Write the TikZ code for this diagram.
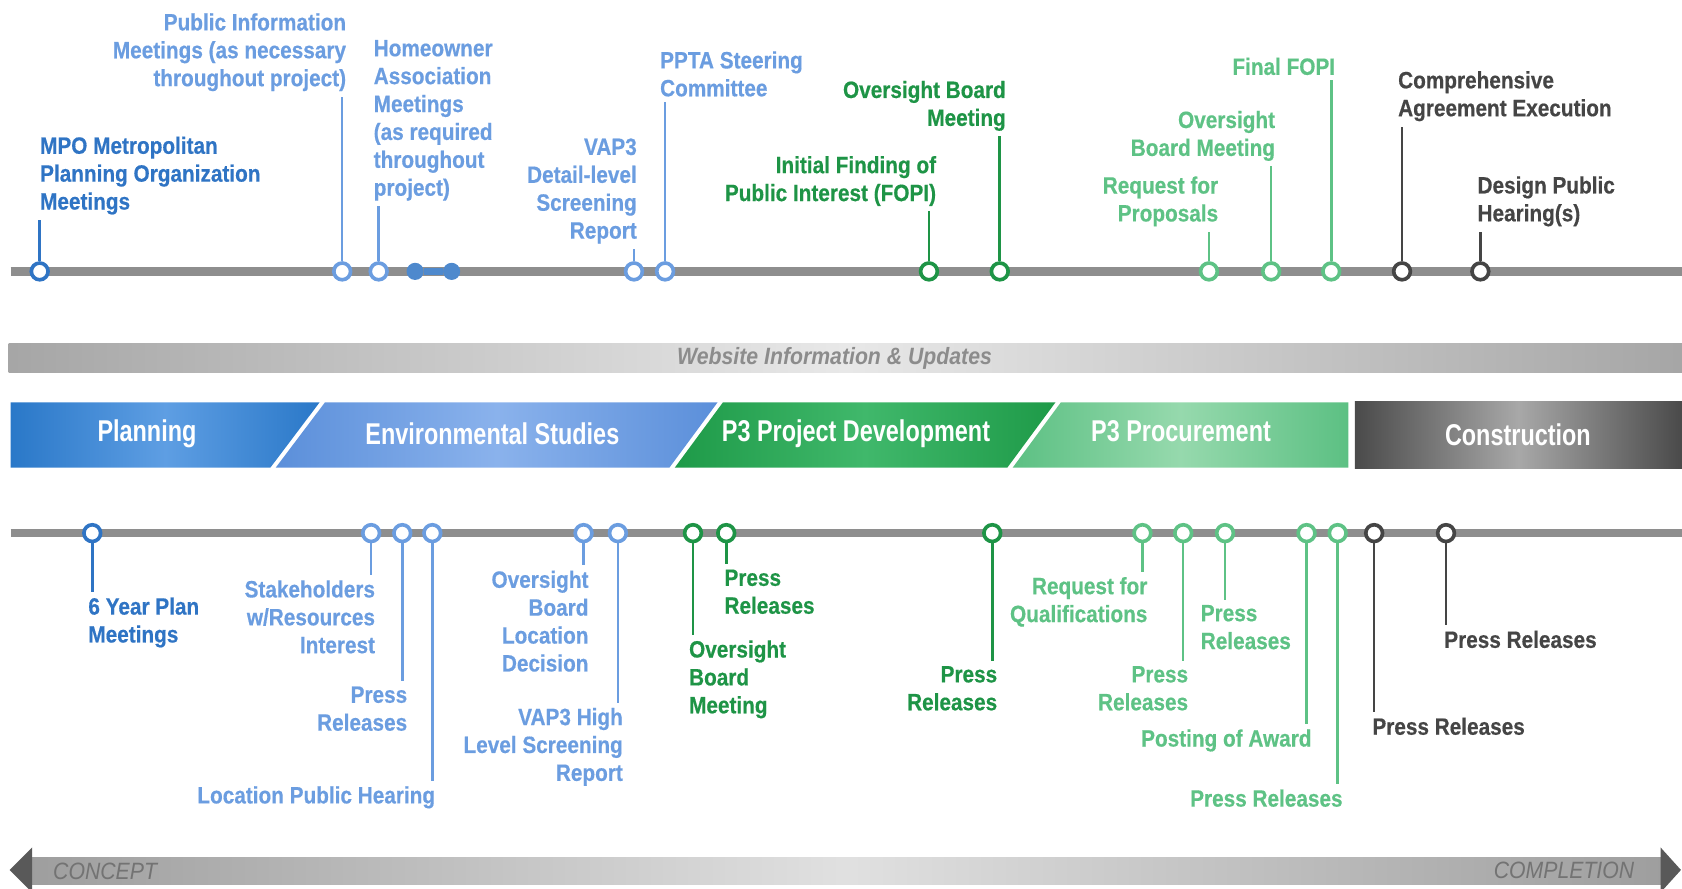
\documentclass[tikz,border=0pt]{standalone}
\usepackage{fontspec}
\usepackage{tikz}
\newfontfamily\evfamily[FakeStretch=0.88, FakeBold=0.5]{Liberation Sans}
\newfontfamily\phfamily[FakeStretch=0.78]{Liberation Sans}
\newfontfamily\webfamily[FakeStretch=0.9]{Liberation Sans}
\definecolor{pblue}{HTML}{2F74C4}
\definecolor{lblue}{HTML}{6B9DE0}
\definecolor{dgreen}{HTML}{1E9446}
\definecolor{lgreen}{HTML}{5EC285}
\definecolor{dgray}{HTML}{454545}
\definecolor{tlgray}{HTML}{8E8E8E}
\definecolor{planA}{HTML}{2A78C8}
\definecolor{planB}{HTML}{5E9EE3}
\definecolor{envA}{HTML}{5B8FDA}
\definecolor{envB}{HTML}{8AB2EC}
\definecolor{pdA}{HTML}{1E9A48}
\definecolor{pdB}{HTML}{40B86B}
\definecolor{prA}{HTML}{5CC083}
\definecolor{prB}{HTML}{96D9AD}
\definecolor{conA}{HTML}{4A4A4A}
\definecolor{conB}{HTML}{A8A8A8}
\tikzset{every picture/.append style={x=0.5pt, y=-0.5pt}}
\tikzset{
    ev/.style={circle, draw, fill=white, line width=1.7pt, minimum size=7.8pt, inner sep=0pt},
    dot/.style={circle, fill=pblue!85, minimum size=8pt, inner sep=0pt},
    stem/.style={line width=1.2pt},
    tl/.style={line width=4pt, draw=tlgray},
    lbl/.style={font=\evfamily\bfseries\fontsize{11}{13}\selectfont, inner sep=0pt, outer ysep=2.5pt},
    phase/.style={font=\phfamily\bfseries\fontsize{14}{16}\selectfont, text=white, inner sep=0pt},
    band/.style={font=\webfamily\itshape\fontsize{11}{13}\selectfont, inner sep=0pt}
}

\begin{document}
\begin{tikzpicture}
	\useasboundingbox (0,0) rectangle (1568,828);
	\shade[left color=black!35, right color=black!35, middle color=black!9] (8,320) rectangle (1568,347);
	\node (web) [band, text=black!45, font=\webfamily\bfseries\itshape\fontsize{11}{13}\selectfont] at (778,334) {Website Information \& Updates};

	\shade[left color=planA, right color=planA, middle color=planB] (10,375) -- (298,375) -- (252,436) -- (10,436) -- cycle;
	\shade[left color=envA, right color=envA, middle color=envB] (303,375) -- (669,375) -- (624,436) -- (257,436) -- cycle;
	\shade[left color=pdA, right color=pdA, middle color=pdB] (674,375) -- (984,375) -- (939,436) -- (629,436) -- cycle;
	\shade[left color=prA, right color=prA, middle color=prB] (989,375) -- (1257,375) -- (1257,436) -- (944,436) -- cycle;
	\shade[left color=conA, right color=conA, middle color=conB] (1263,374) rectangle (1568,437);
	\node (p1) [phase] at (137,404) {Planning};
	\node (p2) [phase] at (459,404) {Environmental Studies};
	\node (p3) [phase] at (798,404) {P3 Project Development};
	\node (p4) [phase] at (1101,402) {P3 Procurement};
	\node (p5) [phase] at (1415,405) {Construction};

	\coordinate (ta) at (10,253); \coordinate (tb) at (1568,253);
	\coordinate (ba) at (10,497); \coordinate (bb) at (1568,497);
	\draw [tl] (ta) -- (tb); \draw [tl] (ba) -- (bb);

	\node (t1) [ev, draw=pblue] at (37,253) {};
	\node (t2) [ev, draw=lblue] at (319,253) {};
	\node (t3) [ev, draw=lblue] at (353,253) {};
	\node (d1) [dot] at (387,253) {};
	\node (d2) [dot] at (421,253) {};
	\node (t4) [ev, draw=lblue] at (591,253) {};
	\node (t5) [ev, draw=lblue] at (620,253) {};
	\node (t6) [ev, draw=dgreen] at (866,253) {};
	\node (t7) [ev, draw=dgreen] at (932,253) {};
	\node (t8) [ev, draw=lgreen] at (1127,253) {};
	\node (t9) [ev, draw=lgreen] at (1185,253) {};
	\node (t10) [ev, draw=lgreen] at (1241,253) {};
	\node (t11) [ev, draw=dgray] at (1307,253) {};
	\node (t12) [ev, draw=dgray] at (1380,253) {};

	\node (l1) [lbl, anchor=south west, align=left, text=pblue] at (37,205) {MPO Metropolitan\\Planning Organization\\Meetings};
	\node (l2) [lbl, anchor=south east, align=right, text=lblue] at (323,90) {Public Information\\Meetings (as necessary\\throughout project)};
	\node (l3) [lbl, anchor=south west, align=left, text=lblue] at (348,192) {Homeowner\\Association\\Meetings\\(as required\\throughout\\project)};
	\node (l4) [lbl, anchor=south east, align=right, text=lblue] at (594,232) {VAP3\\Detail-level\\Screening\\Report};
	\node (l5) [lbl, anchor=south west, align=left, text=lblue] at (615,95) {PPTA Steering\\Committee};
	\node (l6) [lbl, anchor=south east, align=right, text=dgreen] at (873,197) {Initial Finding of\\Public Interest (FOPI)};
	\node (l7) [lbl, anchor=south east, align=right, text=dgreen] at (938,127) {Oversight Board\\Meeting};
	\node (l8) [lbl, anchor=south east, align=right, text=lgreen] at (1136,216) {Request for\\Proposals};
	\node (l9) [lbl, anchor=south east, align=right, text=lgreen] at (1189,155) {Oversight\\Board Meeting};
	\node (l10) [lbl, anchor=south east, align=right, text=lgreen] at (1245,75) {Final FOPI};
	\node (l11) [lbl, anchor=south west, align=left, text=dgray] at (1303,118) {Comprehensive\\Agreement Execution};
	\node (l12) [lbl, anchor=south west, align=left, text=dgray] at (1377,216) {Design Public\\Hearing(s)};

	\draw [stem, pblue] (t1) edge (t1 |- l1.south); \draw [stem, lblue] (t2) edge (t2 |- l2.south);
	\draw [stem, lblue] (t3) edge (t3 |- l3.south); \draw [stem, lblue] (t4) edge (t4 |- l4.south);
	\draw [stem, lblue] (t5) edge (t5 |- l5.south); \draw [stem, dgreen] (t6) edge (t6 |- l6.south);
	\draw [stem, dgreen] (t7) edge (t7 |- l7.south); \draw [stem, lgreen] (t8) edge (t8 |- l8.south);
	\draw [stem, lgreen] (t9) edge (t9 |- l9.south); \draw [stem, lgreen] (t10) edge (t10 |- l10.south);
	\draw [stem, dgray] (t11) edge (t11 |- l11.south); \draw [stem, dgray] (t12) edge (t12 |- l12.south);
	\draw [line width=3.5pt, pblue!85] (d1) edge (d2);

	\node (b1) [ev, draw=pblue] at (86,497) {};
	\node (b2) [ev, draw=lblue] at (346,497) {};
	\node (b3) [ev, draw=lblue] at (375,497) {};
	\node (b4) [ev, draw=lblue] at (403,497) {};
	\node (b5) [ev, draw=lblue] at (544,497) {};
	\node (b6) [ev, draw=lblue] at (576,497) {};
	\node (b7) [ev, draw=dgreen] at (646,497) {};
	\node (b8) [ev, draw=dgreen] at (677,497) {};
	\node (b9) [ev, draw=dgreen] at (925,497) {};
	\node (b10) [ev, draw=lgreen] at (1065,497) {};
	\node (b11) [ev, draw=lgreen] at (1103,497) {};
	\node (b12) [ev, draw=lgreen] at (1142,497) {};
	\node (b13) [ev, draw=lgreen] at (1218,497) {};
	\node (b14) [ev, draw=lgreen] at (1247,497) {};
	\node (b15) [ev, draw=dgray] at (1281,497) {};
	\node (b16) [ev, draw=dgray] at (1348,497) {};

	\node (m1) [lbl, anchor=north west, align=left, text=pblue] at (82,552) {6 Year Plan\\Meetings};
	\node (m2) [lbl, anchor=north east, align=right, text=lblue] at (350,536) {Stakeholders\\w/Resources\\Interest};
	\node (m3) [lbl, anchor=north east, align=right, text=lblue] at (380,635) {Press\\Releases};
	\node (m4) [lbl, anchor=north east, align=right, text=lblue] at (406,728) {Location Public Hearing};
	\node (m5) [lbl, anchor=north east, align=right, text=lblue] at (549,527) {Oversight\\Board\\Location\\Decision};
	\node (m6) [lbl, anchor=north east, align=right, text=lblue] at (581,655) {VAP3 High\\Level Screening\\Report};
	\node (m7) [lbl, anchor=north west, align=left, text=dgreen] at (642,592) {Oversight\\Board\\Meeting};
	\node (m8) [lbl, anchor=north west, align=left, text=dgreen] at (675,526) {Press\\Releases};
	\node (m9) [lbl, anchor=north east, align=right, text=dgreen] at (930,616) {Press\\Releases};
	\node (m10) [lbl, anchor=north east, align=right, text=lgreen] at (1070,533) {Request for\\Qualifications};
	\node (m11) [lbl, anchor=north east, align=right, text=lgreen] at (1108,616) {Press\\Releases};
	\node (m12) [lbl, anchor=north west, align=left, text=lgreen] at (1119,559) {Press\\Releases};
	\node (m13) [lbl, anchor=north east, align=right, text=lgreen] at (1223,675) {Posting of Award};
	\node (m14) [lbl, anchor=north east, align=right, text=lgreen] at (1252,731) {Press Releases};
	\node (m15) [lbl, anchor=north west, align=left, text=dgray] at (1279,664) {Press Releases};
	\node (m16) [lbl, anchor=north west, align=left, text=dgray] at (1346,583) {Press Releases};

	\draw [stem, pblue] (b1) edge (b1 |- m1.north); \draw [stem, lblue] (b2) edge (b2 |- m2.north);
	\draw [stem, lblue] (b3) edge (b3 |- m3.north); \draw [stem, lblue] (b4) edge (b4 |- m4.north);
	\draw [stem, lblue] (b5) edge (b5 |- m5.north); \draw [stem, lblue] (b6) edge (b6 |- m6.north);
	\draw [stem, dgreen] (b7) edge (b7 |- m7.north); \draw [stem, dgreen] (b8) edge (b8 |- m8.north);
	\draw [stem, dgreen] (b9) edge (b9 |- m9.north); \draw [stem, lgreen] (b10) edge (b10 |- m10.north);
	\draw [stem, lgreen] (b11) edge (b11 |- m11.north); \draw [stem, lgreen] (b12) edge (b12 |- m12.north);
	\draw [stem, lgreen] (b13) edge (b13 |- m13.north); \draw [stem, lgreen] (b14) edge (b14 |- m14.north);
	\draw [stem, dgray] (b15) edge (b15 |- m15.north); \draw [stem, dgray] (b16) edge (b16 |- m16.north);

	\shade[left color=black!38, right color=black!38, middle color=black!12] (28,799) rectangle (1550,825);
	\fill[black!65] (9,811) -- (30,790) -- (30,832) -- cycle;
	\fill[black!65] (1567,811) -- (1548,790) -- (1548,832) -- cycle;
	\node (c1) [band, text=black!55] at (98,812) {CONCEPT};
	\node (c2) [band, text=black!55] at (1458,811) {COMPLETION};
\end{tikzpicture}
\end{document}
